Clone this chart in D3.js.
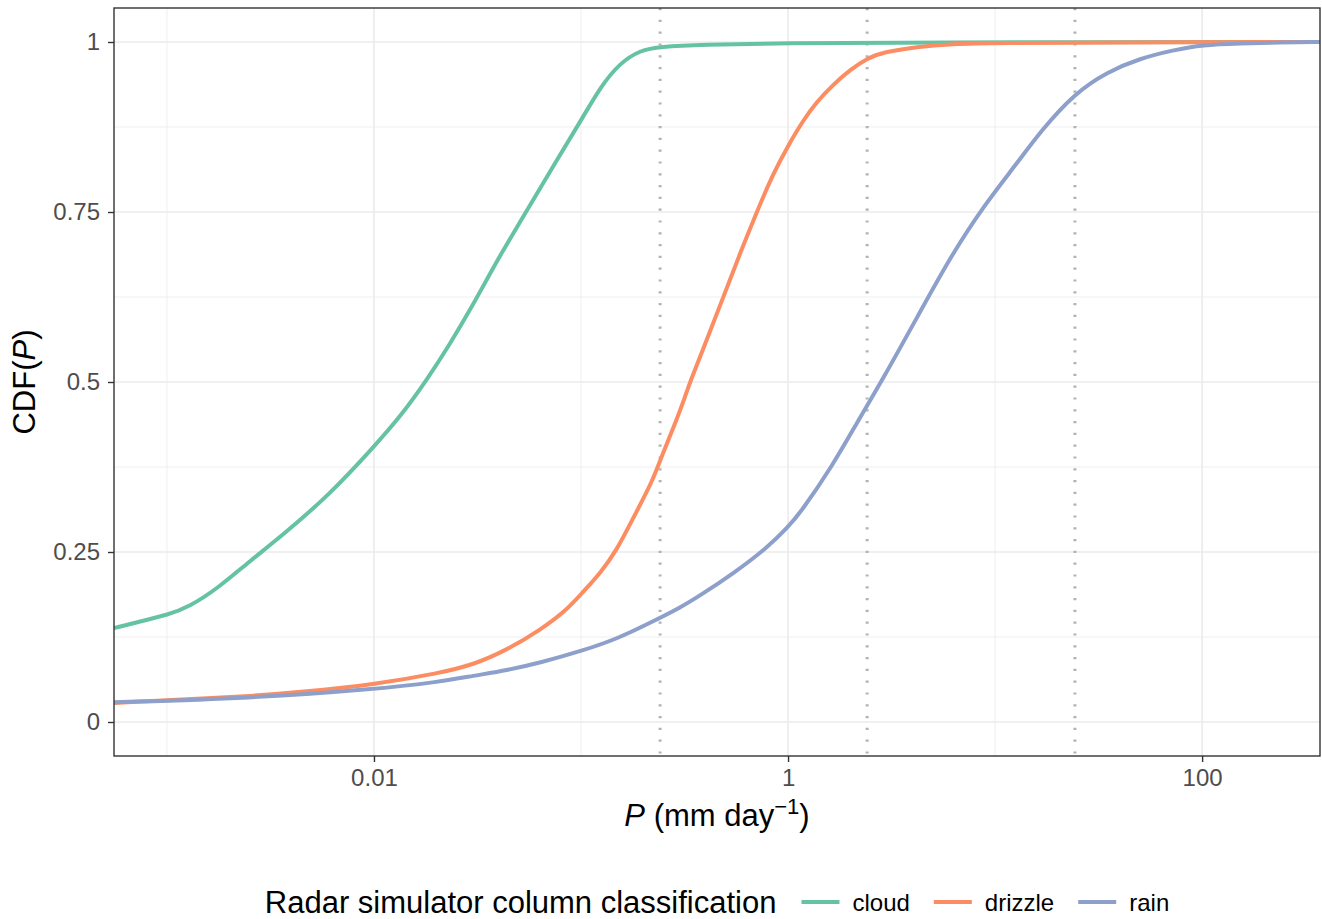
<!DOCTYPE html>
<html>
<head>
<meta charset="utf-8">
<script src="https://cdn.jsdelivr.net/npm/d3@7"></script>
<style>
  body { margin: 0; background: #fff; }
  svg { display: block; font-family: "Liberation Sans", Arial, sans-serif; }
</style>
</head>
<body>
<div id="chart"></div>
<script>
"use strict";

// values (P in mm/day, CDF in 0..1)

const pCloud = [0.000555, 0.000741, 0.001, 0.00129, 0.00175, 0.00252, 0.00363, 0.00613, 0.01, 0.0134, 0.018, 0.0233, 0.0291, 0.035, 0.0406, 0.0568, 0.0749, 0.0989, 0.124, 0.154, 0.193, 0.241, 0.376, 1, 3.48, 371];
const cdfCloud = [0.138, 0.148, 0.157, 0.170, 0.196, 0.237, 0.275, 0.335, 0.405, 0.449, 0.503, 0.556, 0.606, 0.650, 0.686, 0.760, 0.822, 0.882, 0.934, 0.969, 0.988, 0.993, 0.996, 0.9985, 0.9995, 1.0];

const pDrizzle = [0.000555, 0.001, 0.00252, 0.00439, 0.01, 0.0208, 0.0301, 0.0439, 0.0634, 0.0856, 0.102, 0.124, 0.149, 0.178, 0.223, 0.243, 0.291, 0.318, 0.336, 0.405, 0.487, 0.586, 0.706, 0.849, 1.015, 1.185, 1.376, 1.649, 1.993, 2.41, 2.88, 4.20, 6.06, 10.6, 32.1, 371];
const cdfDrizzle = [0.028, 0.032, 0.038, 0.044, 0.055, 0.072, 0.084, 0.106, 0.135, 0.165, 0.191, 0.219, 0.253, 0.299, 0.356, 0.388, 0.446, 0.478, 0.500, 0.562, 0.625, 0.689, 0.750, 0.807, 0.851, 0.885, 0.912, 0.937, 0.959, 0.976, 0.985, 0.993, 0.997, 0.9985, 0.9995, 1.0];

const pRain = [0.000555, 0.00252, 0.01, 0.0208, 0.0301, 0.0439, 0.0634, 0.102, 0.149, 0.223, 0.301, 0.376, 0.542, 0.792, 1, 1.143, 1.649, 2.15, 2.88, 4.20, 6.06, 8.75, 12.8, 16.5, 24.3, 34.8, 50.2, 72.4, 100.5, 152.7, 238, 371];
const cdfRain = [0.029, 0.035, 0.048, 0.059, 0.068, 0.076, 0.087, 0.105, 0.122, 0.148, 0.168, 0.186, 0.218, 0.256, 0.287, 0.307, 0.378, 0.440, 0.505, 0.595, 0.683, 0.758, 0.822, 0.868, 0.925, 0.956, 0.976, 0.988, 0.996, 0.998, 0.9995, 1.0];

const classes = ["cloud", "drizzle", "rain"];
const colours = ["#66c2a5", "#fc8d62", "#8da0cb"];

const xBreaks = [0.01, 1, 100];
const xMinor = [0.001, 0.1, 10];
const yBreaks = [0, 0.25, 0.5, 0.75, 1];
const yLabels = ["0", "0.25", "0.5", "0.75", "1"];
const yMinor = [0.125, 0.375, 0.625, 0.875];
const thresholds = [0.241, 2.41, 24.3];

const series = [
    {name: "cloud", p: pCloud, cdf: cdfCloud},
    {name: "drizzle", p: pDrizzle, cdf: cdfDrizzle},
    {name: "rain", p: pRain, cdf: cdfRain}
];


const width = 1322;
const height = 919;
const margin = ({top: 8, right: 2, bottom: 163, left: 114});

const x = d3.scaleLog()
    .domain([0.000555, 371])
    .range([margin.left, width - margin.right]);

const y = d3.scaleLinear()
    .domain([-0.05, 1.05])
    .range([height - margin.bottom, margin.top]);

const colour = d3.scaleOrdinal().domain(classes).range(colours);

const svg = d3.select("#chart").append("svg")
    .attr("width", width)
    .attr("height", height);

const panel = svg.append("g");

// grid
panel.selectAll("line.ymin").data(yMinor).join("line")
    .attr("x1", margin.left).attr("x2", width - margin.right)
    .attr("y1", d => y(d)).attr("y2", d => y(d))
    .attr("stroke", "#ebebeb").attr("stroke-width", 0.8);

panel.selectAll("line.xmin").data(xMinor).join("line")
    .attr("x1", d => x(d)).attr("x2", d => x(d))
    .attr("y1", margin.top).attr("y2", height - margin.bottom)
    .attr("stroke", "#ebebeb").attr("stroke-width", 0.8);

panel.selectAll("line.ymaj").data(yBreaks).join("line")
    .attr("x1", margin.left).attr("x2", width - margin.right)
    .attr("y1", d => y(d)).attr("y2", d => y(d))
    .attr("stroke", "#ebebeb").attr("stroke-width", 1.6);

panel.selectAll("line.xmaj").data(xBreaks).join("line")
    .attr("x1", d => x(d)).attr("x2", d => x(d))
    .attr("y1", margin.top).attr("y2", height - margin.bottom)
    .attr("stroke", "#ebebeb").attr("stroke-width", 1.6);

// dotted thresholds
panel.selectAll("line.thr").data(thresholds).join("line")
    .attr("x1", d => x(d)).attr("x2", d => x(d))
    .attr("y1", margin.top).attr("y2", height - margin.bottom)
    .attr("stroke", "#b3b3b3").attr("stroke-width", 3)
    .attr("stroke-dasharray", "2.2,9.6");

const line = d3.line()
    .curve(d3.curveBasis)
    .x(d => x(d[0]))
    .y(d => y(d[1]));

panel.append("g")
    .attr("fill", "none")
    .attr("stroke-width", 4)
    .attr("stroke-linejoin", "round")
  .selectAll("path")
  .data(series)
  .join("path")
    .attr("stroke", d => colour(d.name))
    .attr("d", d => line(d.p.map((v, i) => [v, d.cdf[i]])));

// border
panel.append("rect")
    .attr("x", margin.left).attr("y", margin.top)
    .attr("width", width - margin.left - margin.right)
    .attr("height", height - margin.top - margin.bottom)
    .attr("fill", "none").attr("stroke", "#333333").attr("stroke-width", 1.4);

// axes
const xAxis = g => g
    .attr("transform", `translate(0,${height - margin.bottom})`)
    .call(d3.axisBottom(x).tickValues(xBreaks).tickFormat(d3.format("~g")).tickSize(6).tickPadding(7))
    .call(g => g.select(".domain").remove());

const yAxis = g => g
    .attr("transform", `translate(${margin.left},0)`)
    .call(d3.axisLeft(y).tickValues(yBreaks).tickFormat((d, i) => yLabels[i]).tickSize(6).tickPadding(8))
    .call(g => g.select(".domain").remove());

[xAxis, yAxis].forEach(a => {
    svg.append("g").call(a)
        .call(g => g.selectAll(".tick line").attr("stroke", "#333333").attr("stroke-width", 1.4))
        .call(g => g.selectAll(".tick text")
            .attr("fill", "#4d4d4d")
            .style("font-size", "24px")
            .style("font-family", "'Liberation Sans', Arial, sans-serif"));
});

// axis titles
const xt = svg.append("text")
    .attr("x", (margin.left + width - margin.right) / 2)
    .attr("y", 826)
    .attr("text-anchor", "middle")
    .style("font-size", "31px");
xt.append("tspan").attr("font-style", "italic").text("P");
xt.append("tspan").text(" (mm day");
xt.append("tspan").attr("dy", -12).style("font-size", "22px").text("\u22121");
xt.append("tspan").attr("dy", 12).text(")");

const yt = svg.append("text")
    .attr("transform", `translate(35,${y(0.5)}) rotate(-90)`)
    .attr("text-anchor", "middle")
    .style("font-size", "31px");
yt.append("tspan").text("CDF(");
yt.append("tspan").attr("font-style", "italic").text("P");
yt.append("tspan").text(")");

// legend
const legend = svg.append("g");
const ly = 902;

const ltitle = legend.append("text")
    .attr("x", 0).attr("y", ly + 11)
    .style("font-size", "31px")
    .text("Radar simulator column classification");

let cx = ltitle.node().getComputedTextLength() + 25;

classes.forEach((c, i) => {
    legend.append("line")
        .attr("x1", cx).attr("x2", cx + 38)
        .attr("y1", ly).attr("y2", ly)
        .attr("stroke", colour(c)).attr("stroke-width", 4);
    const t = legend.append("text")
        .attr("x", cx + 51).attr("y", ly + 8.5)
        .style("font-size", "24px")
        .text(c);
    cx += 51 + t.node().getComputedTextLength() + (i < classes.length - 1 ? 24 : 0);
});

legend.attr("transform", `translate(${(margin.left + width - margin.right) / 2 - cx / 2},0)`);

</script>
</body>
</html>
